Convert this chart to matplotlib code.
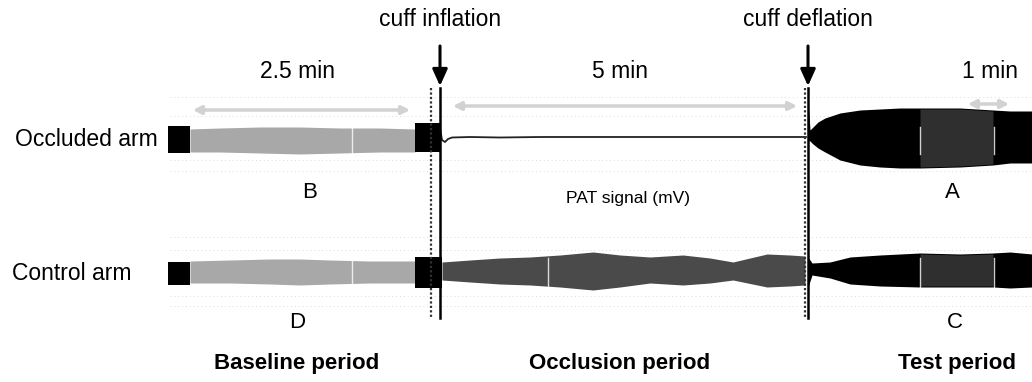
import matplotlib
matplotlib.use("Agg")
import matplotlib.pyplot as plt
import numpy as np

plt.rcParams['font.family'] = ['Liberation Sans', 'DejaVu Sans']

# ---- data (time axis in plot units, envelope values in plot units) ----
# Occluded arm
occ_base_x = [190, 220, 260, 300, 340, 380, 415]
occ_base_top = [129, 128, 127, 127, 128, 128, 129]
occ_base_bot = [152, 152, 153, 154, 153, 152, 152]
occ_block1 = (168, 190, 126, 153)
occ_block2 = (415, 440, 123, 152)
occ_line_x = [440, 442, 445, 448, 452, 470, 500, 540, 580, 620, 660, 700, 740, 780, 806]
occ_line_y = [128, 140, 142, 139, 137.5, 137, 137.5, 137, 137, 137, 137, 137, 137, 137, 137]
occ_test_x = [808, 810, 813, 818, 825, 840, 860, 880, 900, 920, 960, 993, 1010, 1032]
occ_test_top = [100, 130, 127, 122, 118, 113, 110, 109, 108, 108, 108, 110, 111, 111]
occ_test_bot = [140, 141, 144, 148, 152, 160, 165, 167, 168, 168, 167, 165, 163, 163]

# Control arm
ctl_block1 = (168, 190, 262, 285)
ctl_base_x = [190, 230, 270, 300, 330, 370, 415]
ctl_base_top = [261, 260, 259, 259, 260, 261, 261]
ctl_base_bot = [283, 283, 284, 285, 284, 283, 283]
ctl_block2 = (415, 442, 257, 288)
ctl_occ_x = [442, 470, 500, 530, 560, 593, 620, 650, 683, 710, 733, 767, 790, 805]
ctl_occ_top = [262, 260, 258, 257, 255, 252, 255, 257, 255, 258, 262, 254, 255, 256]
ctl_occ_bot = [280, 282, 284, 285, 287, 290, 287, 283, 285, 283, 280, 287, 286, 285]
ctl_test_x = [808, 812, 830, 850, 880, 920, 960, 993, 1010, 1032]
ctl_test_top = [257, 263, 262, 257, 255, 253, 254, 253, 252, 254]
ctl_test_bot = [287, 275, 278, 284, 286, 287, 287, 287, 288, 287]

gray_section = (920, 994)
occ_white_marks = [352, 920, 994]
ctl_white_marks = [352, 548, 920, 994]

period_labels = ["Baseline period", "Occlusion period", "Test period"]
period_x = [297, 620, 957]
duration_labels = ["2.5 min", "5 min", "1 min"]
duration_x = [297, 620, 990]
duration_spans = [(190, 413), (450, 800), (965, 1012)]
events = ["cuff inflation", "cuff deflation"]
event_x = [440, 808]
event_dotted_x = [431, 805]

# ---- figure ----
fig = plt.figure(figsize=(10.32, 3.82), dpi=100)
ax = fig.add_axes([0, 0, 1, 1])
ax.set_xlim(0, 1032)
ax.set_ylim(382, 0)
ax.axis('off')

light = '#a8a8a8'
dark = '#4a4a4a'

# faint dotted guide lines
for yy in [97, 116, 160, 171, 237, 250, 296, 306]:
    ax.plot([170, 1032], [yy, yy], color='#dcdcdc', lw=0.7, ls=(0, (1, 3)), zorder=1)

# light gray duration arrows
for (x0, x1), yy in zip(duration_spans, [110, 106, 104]):
    ax.annotate('', xy=(x0, yy), xytext=(x1, yy),
                arrowprops=dict(arrowstyle='<|-|>', color='#d2d2d2', lw=2.5,
                                mutation_scale=12), zorder=1)

def block(b, color='black'):
    x0, x1, y0, y1 = b
    ax.fill_between([x0, x1], [y0, y0], [y1, y1], color=color, lw=0, zorder=3)

# Occluded arm
block(occ_block1)
ax.fill_between(occ_base_x, occ_base_top, occ_base_bot, color=light, lw=0, zorder=3)
block(occ_block2)
ax.plot(occ_line_x, occ_line_y, color='#222222', lw=1.3, zorder=3)
ax.fill_between(occ_test_x, occ_test_top, occ_test_bot, color='black', lw=0, zorder=3)

# Control arm
block(ctl_block1)
ax.fill_between(ctl_base_x, ctl_base_top, ctl_base_bot, color=light, lw=0, zorder=3)
block(ctl_block2)
ax.fill_between(ctl_occ_x, ctl_occ_top, ctl_occ_bot, color=dark, lw=0, zorder=3)
ax.fill_between(ctl_test_x, ctl_test_top, ctl_test_bot, color='black', lw=0, zorder=3)

# darker-gray section within test period
for tx, tt, tb in [(occ_test_x, occ_test_top, occ_test_bot), (ctl_test_x, ctl_test_top, ctl_test_bot)]:
    xs = np.array(tx, dtype=float)
    m = (xs >= gray_section[0]) & (xs <= gray_section[1])
    ax.fill_between(xs[m], np.array(tt)[m] + 1, np.array(tb)[m] - 1, color='#2f2f2f', lw=0, zorder=4)

# thin white marks
for wx in occ_white_marks:
    ax.plot([wx, wx], [127, 154], color='white', lw=1.0, alpha=0.8, zorder=5)
for wx in ctl_white_marks:
    ax.plot([wx, wx], [258, 288], color='white', lw=1.0, alpha=0.8, zorder=5)

# event lines and arrows
for ex, dx, lab in zip(event_x, event_dotted_x, events):
    ax.plot([dx, dx], [88, 318], color='#333333', lw=1.6, ls=(0, (1, 1)), zorder=6)
    ax.plot([ex, ex], [88, 318], color='black', lw=1.8, zorder=6)
    ax.annotate('', xy=(ex, 86), xytext=(ex, 46),
                arrowprops=dict(arrowstyle='-|>,head_width=0.45,head_length=1.0',
                                color='black', lw=2.2, shrinkA=0, shrinkB=0), zorder=7)
    ax.text(ex, 20, lab, ha='center', va='center', fontsize=16.5, color='black')

for lab, x in zip(duration_labels, duration_x):
    ax.text(x, 71, lab, ha='center', va='center', fontsize=16.5, color='black')

ax.text(158, 140, "Occluded arm", ha='right', va='center', fontsize=16.5)
ax.text(12, 273, "Control arm", ha='left', va='center', fontsize=16.5)

ax.text(310, 192, "B", ha='center', va='center', fontsize=16)
ax.text(952, 192, "A", ha='center', va='center', fontsize=16)
ax.text(297, 322, "D", ha='center', va='center', fontsize=16)
ax.text(955, 322, "C", ha='center', va='center', fontsize=16)
ax.text(628, 199, "PAT signal (mV)", ha='center', va='center', fontsize=12.5)

for lab, x in zip(period_labels, period_x):
    ax.text(x, 363, lab, ha='center', va='center', fontsize=16, fontweight='bold')

fig.savefig('out.png', dpi=100)
